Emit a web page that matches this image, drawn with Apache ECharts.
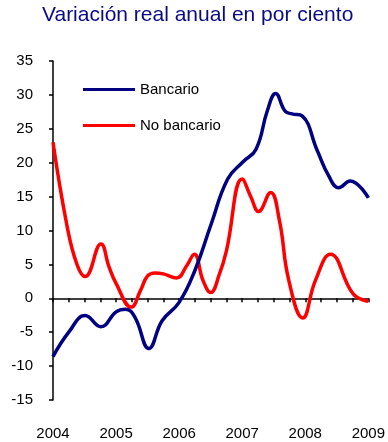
<!DOCTYPE html>
<html>
<head>
<meta charset="utf-8">
<script src="https://cdn.jsdelivr.net/npm/echarts@6/dist/echarts.min.js"></script>
<style>
html,body{margin:0;padding:0;background:#fff;}
#chart{width:388px;height:442px;}
</style>
</head>
<body>
<div id="chart"></div>
<script>
// Data (decimal years)
const titleText = 'Variación real anual en por ciento';
const seriesNames = ['Bancario', 'No bancario'];
const xTickYears = [2004, 2005, 2006, 2007, 2008, 2009];
const yTicks = [-15, -10, -5, 0, 5, 10, 15, 20, 25, 30, 35];

const bancarioX = [2004.00, 2004.25, 2004.51, 2004.76, 2005.00, 2005.15, 2005.30, 2005.52, 2005.73, 2006.00, 2006.25, 2006.51, 2006.77, 2007.01, 2007.22, 2007.40, 2007.53, 2007.68, 2007.79, 2007.95, 2008.19, 2008.37, 2008.53, 2008.71, 2009.00];
const bancarioY = [-8.6, -5.0, -2.55, -4.2, -2.0, -1.6, -2.8, -7.4, -3.3, -0.6, 4.1, 11.0, 17.6, 20.1, 22.0, 27.7, 30.2, 27.6, 27.2, 26.9, 21.8, 18.1, 16.3, 17.3, 14.8];

const noBancarioX = [2004.00, 2004.22, 2004.38, 2004.51, 2004.76, 2004.89, 2005.00, 2005.24, 2005.39, 2005.50, 2005.62, 2005.75, 2005.96, 2006.12, 2006.24, 2006.38, 2006.50, 2006.64, 2006.75, 2007.00, 2007.14, 2007.26, 2007.45, 2007.59, 2007.74, 2007.96, 2008.16, 2008.40, 2008.76, 2009.00];
const noBancarioY = [23.0, 10.8, 5.0, 3.2, 8.0, 4.6, 2.2, -1.3, 1.2, 3.3, 3.75, 3.6, 3.0, 4.8, 6.5, 2.6, 0.85, 3.6, 7.0, 17.6, 14.9, 12.8, 15.6, 11.5, 2.6, -2.9, 2.6, 6.5, 0.65, -0.45];

const pair = (xs, ys) => xs.map((x, i) => [x, ys[i]]);
const FONT = '"Liberation Sans", Arial, sans-serif';

const chart = echarts.init(document.getElementById('chart'), null, {renderer: 'canvas'});
chart.setOption({
  animation: false,
  backgroundColor: '#ffffff',
  title: {
    text: titleText,
    left: 42,
    top: 5,
    padding: 0,
    textStyle: {color: '#0a0a82', fontSize: 21, fontWeight: 'normal', fontFamily: FONT}
  },
  legend: {
    orient: 'vertical',
    left: 78,
    top: 77,
    itemWidth: 52,
    itemHeight: 3,
    itemGap: 21,
    icon: 'rect',
    textStyle: {color: '#000', fontSize: 15, fontFamily: FONT},
    data: seriesNames
  },
  grid: {left: 53, right: 16, top: 61, bottom: 42, containLabel: false},
  xAxis: [
    {
      type: 'value', min: 2004, max: 2009, interval: 0.25,
      axisLine: {show: true, onZero: true, lineStyle: {color: '#000', width: 1.5}},
      axisTick: {show: true, inside: false, length: 4, lineStyle: {color: '#000', width: 1.5}},
      axisLabel: {show: false},
      splitLine: {show: false}
    },
    {
      type: 'value', min: 2004, max: 2009, interval: 0.25, position: 'bottom',
      axisLine: {show: false, onZero: false},
      axisTick: {show: false},
      splitLine: {show: false},
      axisLabel: {
        show: true, margin: 26, color: '#000', fontSize: 15, fontFamily: FONT,
        showMinLabel: true, showMaxLabel: true,
        formatter: v => (xTickYears.indexOf(Math.round(v * 100) / 100) >= 0 ? String(Math.round(v)) : '')
      }
    }
  ],
  yAxis: {
    type: 'value', min: yTicks[0], max: yTicks[yTicks.length - 1], interval: 5,
    axisLine: {show: true, onZero: false, lineStyle: {color: '#000', width: 1.5}},
    axisTick: {show: true, inside: false, length: 4, lineStyle: {color: '#000', width: 1.5}},
    axisLabel: {color: '#000', fontSize: 15, fontFamily: FONT, margin: 20},
    splitLine: {show: false}
  },
  series: [
    {
      name: seriesNames[0], type: 'line', xAxisIndex: 0, smooth: 0.45, symbol: 'none',
      lineStyle: {color: '#000080', width: 3.5}, itemStyle: {color: '#000080'},
      data: pair(bancarioX, bancarioY), z: 3
    },
    {
      name: seriesNames[1], type: 'line', xAxisIndex: 0, smooth: 0.45, symbol: 'none',
      lineStyle: {color: '#ff0000', width: 3.5}, itemStyle: {color: '#ff0000'},
      data: pair(noBancarioX, noBancarioY), z: 2
    }
  ]
});
</script>
</body>
</html>
